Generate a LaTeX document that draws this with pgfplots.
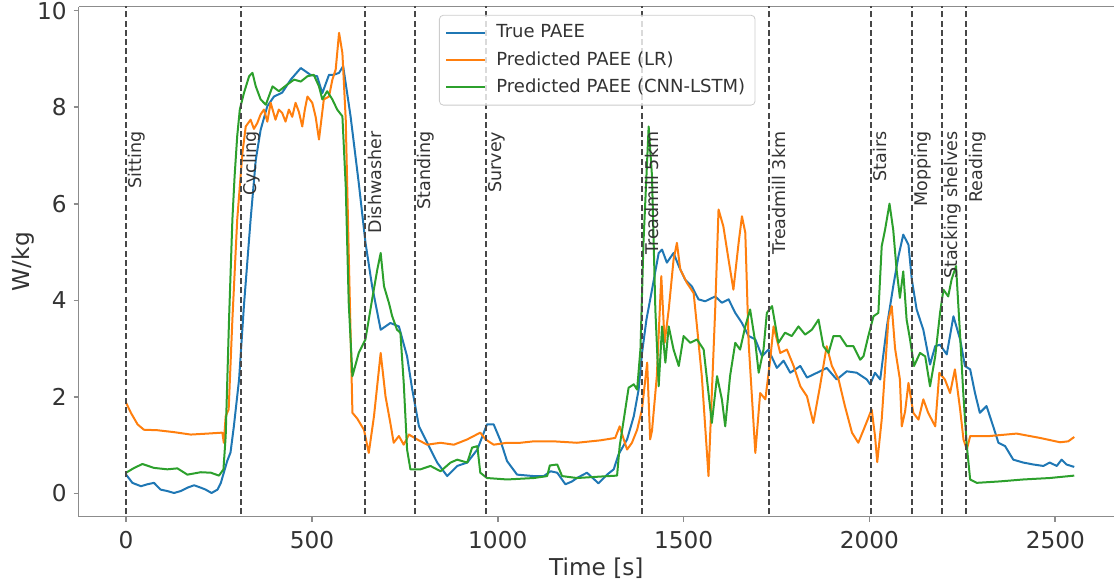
\documentclass[border=0pt]{standalone}
\usepackage{pgfplots}
\pgfplotsset{compat=1.18}
\usepackage{fontspec}
\setmainfont{DejaVu Sans}
\definecolor{tblue}{HTML}{1F77B4}
\definecolor{torange}{HTML}{FF7F0E}
\definecolor{tgreen}{HTML}{2CA02C}
\definecolor{txt}{HTML}{333333}
\definecolor{spine}{HTML}{8C8C8C}
\tikzset{
  lab/.style={rotate=90, anchor=north east, inner sep=0pt,
    font=\fontsize{8.75}{10}\selectfont, text=txt},
  vline/.style={black!72, line width=1pt, dash pattern=on 3pt off 1.6pt},
}
\begin{document}
\begin{tikzpicture}
\begin{axis}[
  scale only axis, width=517.7pt, height=255pt,
  xmin=-127.5, xmax=2658, ymin=-0.48, ymax=10.08,
  axis x line=box, axis y line=left,
  axis line style={-, spine, line width=0.8pt},
  xtick={0,500,...,2500}, ytick={0,2,...,10},
  tick align=outside, xtick pos=left, ytick pos=left,
  major tick length=2.5pt, tick style={spine, line width=0.8pt},
  /pgf/number format/assume math mode=true,
  /pgf/number format/1000 sep={},
  tick label style={font=\fontsize{11.6}{13}\selectfont, text=txt},
  label style={font=\fontsize{11.6}{13}\selectfont, text=txt},
  xticklabel shift=1.5pt, xlabel shift=-2.8pt, ylabel shift=-5.5pt,
  xlabel={Time [s]}, ylabel={W/kg},
  legend style={at={(0.348,0.984)}, anchor=north west, draw=black!20,
    rounded corners=2pt, fill=white, fill opacity=0.8, text opacity=1,
    font=\fontsize{9}{11}\selectfont, text=txt,
    nodes={inner ysep=2.7pt},
    /tikz/every odd column/.append style={column sep=3pt}},
  legend cell align=left,
  legend image code/.code={\draw[#1] (0pt,0pt) -- (19.5pt,0pt);},
  every axis plot/.append style={line width=1pt, line join=round},
]

\addplot[tblue] coordinates {
(0,0.39)(17,0.22)(40,0.15)(57,0.19)(75,0.22)(93,0.08)(111,0.05)(129,0.01)(147,0.05)(165,0.12)
(183,0.17)(201,0.12)(214,0.08)(230,0.01)(246,0.08)(255,0.22)(272,0.67)(281,0.85)(290,1.39)(304,2.36)
(317,3.88)(335,5.67)(349,6.91)(362,7.53)(380,8.02)(398,8.22)(420,8.30)(443,8.57)(470,8.81)(496,8.67)
(514,8.64)(528,8.29)(546,8.67)(559,8.67)(573,8.71)(584,8.85)(604,7.81)(626,6.43)(644,5.2)(662,4.29)
(685,3.39)(711,3.53)(734,3.46)(756,2.84)(770,2.15)(788,1.39)(810,1.05)(837,0.64)(864,0.36)(891,0.57)
(918,0.64)(945,0.91)(971,1.43)(989,1.43)(1007,1.10)(1025,0.67)(1052,0.39)(1097,0.36)(1124,0.36)(1142,0.46)
(1160,0.43)(1182,0.19)(1200,0.25)(1213,0.32)(1240,0.43)(1271,0.21)(1294,0.39)(1312,0.50)(1325,0.81)(1348,1.12)
(1366,1.60)(1379,2.15)(1388,2.9)(1400,3.6)(1415,4.22)(1433,4.98)(1442,5.05)(1455,4.78)(1473,4.98)(1487,4.71)
(1504,4.43)(1522,4.29)(1540,4.02)(1558,3.98)(1585,4.08)(1603,3.95)(1621,4.02)(1639,3.74)(1657,3.53)(1675,3.26)
(1693,3.19)(1711,2.84)(1728,2.98)(1751,2.6)(1769,2.75)(1787,2.50)(1814,2.64)(1832,2.40)(1859,2.50)(1885,2.60)
(1912,2.36)(1939,2.53)(1966,2.50)(1993,2.36)(2002,2.26)(2015,2.50)(2029,2.36)(2047,3.46)(2064,4.29)(2078,4.91)
(2091,5.36)(2105,5.15)(2114,4.43)(2127,3.81)(2145,3.39)(2163,2.67)(2177,3.05)(2190,3.08)(2208,2.88)(2226,3.67)
(2244,3.19)(2257,2.64)(2271,2.57)(2284,2.08)(2297,1.67)(2315,1.81)(2333,1.39)(2347,1.05)(2365,0.98)(2387,0.70)
(2414,0.64)(2441,0.60)(2468,0.57)(2485,0.64)(2504,0.57)(2517,0.70)(2530,0.60)(2551,0.55)
};
\addlegendentry{True PAEE}

\addplot[torange] coordinates {
(0,1.88)(13,1.67)(31,1.43)(48,1.32)(84,1.31)(129,1.27)(174,1.22)(219,1.24)(259,1.26)(263,1.05)
(268,1.6)(276,1.74)(286,3.60)(299,5.67)(313,7.05)(322,7.60)(335,7.74)(344,7.55)(353,7.67)(362,7.85)(371,7.95)(380,7.7)(389,8.09)
(402,7.74)(411,7.95)(420,7.88)(429,7.7)(438,7.95)(447,7.8)(456,8.09)(465,7.9)(474,7.60)(481,7.95)(488,8.22)(501,8.09)(510,7.8)(519,7.33)(532,8.16)(546,8.22)
(555,8.57)(564,8.78)(573,9.54)(582,9.12)(591,7.74)(599,4.98)(609,1.67)(622,1.55)(640,1.32)(653,0.84)
(667,1.60)(685,2.91)(698,2.01)(711,1.46)(720,1.05)(734,1.19)(747,1.01)(761,1.22)(783,1.12)(810,1.01)
(846,1.05)(882,1.01)(918,1.12)(953,1.26)(967,1.12)(989,1.01)(1025,1.05)(1061,1.05)(1097,1.08)(1150,1.08)
(1213,1.05)(1276,1.10)(1316,1.15)(1328,1.39)(1339,1.12)(1348,0.91)(1361,1.05)(1375,1.32)(1388,1.74)(1402,2.71)
(1410,1.12)(1415,1.3)(1428,2.43)(1440,4.50)(1449,3.12)(1460,3.81)(1473,4.84)(1482,5.19)(1491,4.64)(1509,4.36)
(1527,4.15)(1536,3.46)(1549,2.43)(1567,0.36)(1576,2.08)(1585,3.81)(1594,5.88)(1607,5.53)(1621,4.84)(1634,4.22)
(1648,5.19)(1657,5.74)(1666,5.40)(1675,3.12)(1693,0.84)(1706,2.08)(1720,1.95)(1733,2.77)(1742,3.46)(1760,2.91)
(1778,2.98)(1796,2.64)(1814,2.22)(1832,2.01)(1849,1.46)(1867,2.22)(1885,3.05)(1899,2.64)(1917,2.36)(1934,1.81)
(1953,1.26)(1970,1.05)(1988,1.39)(2006,1.74)(2015,1.19)(2021,0.65)(2033,1.53)(2042,2.57)(2051,3.60)(2060,3.88)
(2069,3.0)(2082,2.36)(2087,1.39)(2096,1.7)(2105,2.29)(2118,1.67)(2132,1.53)(2145,1.95)(2158,1.67)(2177,1.39)
(2188,2.50)(2203,2.36)(2217,2.08)(2230,2.57)(2244,1.74)(2253,1.12)(2262,0.91)(2271,1.19)(2324,1.19)(2396,1.24)
(2459,1.15)(2513,1.06)(2535,1.08)(2551,1.17)
};
\addlegendentry{Predicted PAEE (LR)}

\addplot[tgreen] coordinates {
(0,0.43)(22,0.53)(44,0.61)(75,0.53)(111,0.50)(138,0.52)(165,0.39)(201,0.44)(228,0.43)(250,0.37)
(262,0.50)(268,1.19)(277,3.60)(286,5.67)(292,6.57)(299,7.40)(306,7.95)(317,8.29)(331,8.64)(340,8.71)
(349,8.43)(362,8.16)(376,8.05)(394,8.43)(411,8.33)(434,8.47)(452,8.57)(470,8.53)(488,8.64)(505,8.67)
(519,8.43)(528,8.16)(541,8.33)(555,8.16)(568,7.95)(582,7.81)(591,6.36)(599,3.95)(609,2.43)(626,2.91)
(644,3.19)(662,4.02)(676,4.64)(685,4.98)(694,4.29)(707,3.95)(716,3.67)(729,3.39)(738,3.33)(747,2.29)
(756,0.91)(765,0.50)(792,0.50)(819,0.57)(846,0.46)(873,0.64)(891,0.70)(918,0.64)(931,0.95)(945,0.98)
(953,0.43)(971,0.32)(1025,0.29)(1097,0.32)(1133,0.36)(1140,0.58)(1160,0.60)(1173,0.36)(1213,0.32)(1276,0.35)
(1321,0.37)(1328,0.98)(1339,1.53)(1352,2.19)(1366,2.26)(1375,2.15)(1384,3.0)(1392,5.19)(1402,6.91)(1406,7.60)
(1415,6.57)(1424,3.81)(1433,2.22)(1442,3.46)(1451,2.71)(1460,3.46)(1473,2.98)(1487,2.64)(1500,3.26)(1518,3.12)
(1536,3.19)(1554,2.98)(1567,2.08)(1576,1.46)(1590,2.43)(1603,1.95)(1612,1.39)(1625,2.43)(1639,3.12)(1652,2.98)
(1666,3.46)(1679,3.81)(1693,3.12)(1702,2.50)(1715,2.98)(1724,3.74)(1738,3.88)(1755,3.12)(1773,3.33)(1791,3.26)
(1809,3.46)(1827,3.29)(1845,3.39)(1863,3.60)(1876,3.05)(1890,2.91)(1903,3.26)(1921,3.26)(1939,3.05)(1957,3.05)
(1975,2.77)(1984,2.84)(1997,3.26)(2011,3.67)(2024,3.74)(2033,5.12)(2042,5.46)(2054,6.0)(2064,5.46)(2073,4.64)
(2082,4.05)(2091,4.6)(2100,3.6)(2109,3.2)(2120,2.64)(2136,2.91)(2150,2.84)(2163,2.22)(2177,2.84)(2190,3.74)
(2199,4.22)(2212,4.08)(2221,4.43)(2233,4.71)(2244,3.26)(2253,2.01)(2262,0.98)(2271,0.29)(2289,0.22)(2351,0.25)
(2414,0.29)(2485,0.32)(2551,0.37)
};
\addlegendentry{Predicted PAEE (CNN-LSTM)}

\pgfplotsinvokeforeach{0,310,644,776,969,1389,1731,2004,2114,2195,2261}{
  \addplot[forget plot, vline] coordinates {(#1,-1) (#1,11)};
}

\node[lab] at ([xshift=1pt]axis cs:0,7.5) {Sitting};
\node[lab] at ([xshift=1pt]axis cs:310,7.5) {Cycling};
\node[lab] at ([xshift=1pt]axis cs:644,7.5) {Dishwasher};
\node[lab] at ([xshift=1pt]axis cs:776,7.5) {Standing};
\node[lab] at ([xshift=1pt]axis cs:969,7.5) {Survey};
\node[lab] at ([xshift=1pt]axis cs:1389,7.5) {Treadmill 5km};
\node[lab] at ([xshift=1pt]axis cs:1731,7.5) {Treadmill 3km};
\node[lab] at ([xshift=1pt]axis cs:2004,7.5) {Stairs};
\node[lab] at ([xshift=1pt]axis cs:2114,7.5) {Mopping};
\node[lab] at ([xshift=1pt]axis cs:2195,7.5) {Stacking shelves};
\node[lab] at ([xshift=1pt]axis cs:2261,7.5) {Reading};
\end{axis}
\pgfresetboundingbox
\useasboundingbox ([shift={(-39.35pt,-33.65pt)}]current axis.south west) rectangle ([shift={(0pt,3.35pt)}]current axis.north east);
\end{tikzpicture}
\end{document}
